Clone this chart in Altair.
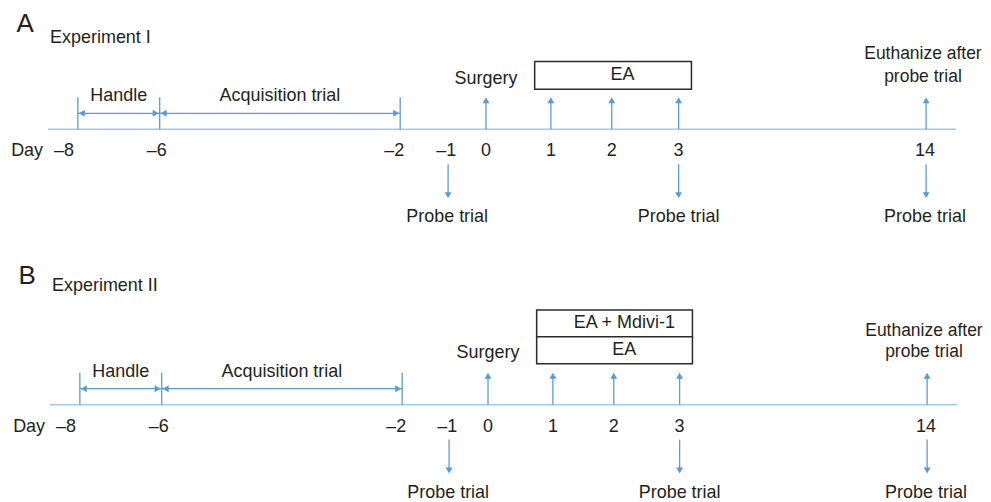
import altair as alt
import pandas as pd

# ---------------- data ----------------
DAYS = [-8, -6, -2, -1, 0, 1, 2, 3, 14]
# schematic (non-linear) placement of each day along the timeline, per panel
X_RANGE_A = [70, 152, 393, 441, 479, 544, 605, 672, 920]
X_RANGE_B = [72, 154, 395, 442, 481, 546, 607, 673, 921]

DAY_LABELS = ["–8", "–6", "–2", "–1", "0", "1", "2", "3", "14"]
DAY_LABEL_POS = [-8.34, -6.07, -2.1, -1.04, 0, 1, 2, 3, 13.95]

PERIOD_NAMES = ["Handle", "Acquisition trial"]
PERIOD_START = [-8, -6]
PERIOD_END = [-6, -2]
PERIOD_TICKS = [-8, -6, -2]

UP_ARROW_DAYS = [0, 1, 2, 3, 14]
DOWN_ARROW_DAYS = [-1, 3, 14]
DOWN_LABELS = ["Probe trial", "Probe trial", "Probe trial"]

SURGERY_TEXT, SURGERY_DAY = "Surgery", 0
END_TEXT = ["Euthanize after", "probe trial"]
END_TEXT_DAY = 13.86

BOX_START, BOX_END = 0.75, 3.57
BOXES_A = ["EA"]
BOXES_B = ["EA + Mdivi-1", "EA"]

AXIS_START, AXIS_END = -8.73, 15.33

# ---------------- style ----------------
FONT = "Liberation Sans"
TXT = "#231f20"
BLUE = "#5b9bd5"
AXIS_BLUE = "#a6c8e8"
FS = 18


def panel(x_range, y_dom, letter, title, letter_y, title_y, boxes, box_edges, surgery_y, end_y):
    xs = alt.Scale(domain=DAYS, range=x_range, nice=False, zero=False)
    ys = alt.Scale(domain=y_dom, reverse=True, nice=False, zero=False)

    def X(f):
        return alt.X(f + ":Q", scale=xs, axis=None)

    def Y(f):
        return alt.Y(f + ":Q", scale=ys, axis=None)

    def text_layer(df, **kw):
        props = dict(font=FONT, fontSize=FS, color=TXT, baseline="middle", align="center")
        props.update(kw)
        return alt.Chart(df).mark_text(**props).encode(x=X("x"), y=Y("y"), text="t:N")

    layers = []
    # main timeline
    layers.append(
        alt.Chart(pd.DataFrame({"x": [AXIS_START], "x2": [AXIS_END], "y": [0]}))
        .mark_rule(color=AXIS_BLUE, strokeWidth=1.6)
        .encode(x=X("x"), x2="x2", y=Y("y"))
    )
    # period boundary ticks
    layers.append(
        alt.Chart(pd.DataFrame({"x": PERIOD_TICKS, "y": [0] * 3, "y2": [-32] * 3}))
        .mark_rule(color=BLUE, strokeWidth=1.3)
        .encode(x=X("x"), y=Y("y"), y2="y2")
    )
    # period double arrows
    per = pd.DataFrame({"x": PERIOD_START, "x2": PERIOD_END, "y": [-16] * 2, "t": PERIOD_NAMES})
    layers.append(
        alt.Chart(per).mark_rule(color=BLUE, strokeWidth=1.3).encode(x=X("x"), x2="x2", y=Y("y"))
    )
    layers.append(
        alt.Chart(pd.DataFrame({"x": PERIOD_START, "y": [-16] * 2}))
        .mark_point(shape="triangle-left", filled=True, color=BLUE, opacity=1, size=48, xOffset=4)
        .encode(x=X("x"), y=Y("y"))
    )
    layers.append(
        alt.Chart(pd.DataFrame({"x": PERIOD_END, "y": [-16] * 2}))
        .mark_point(shape="triangle-right", filled=True, color=BLUE, opacity=1, size=48, xOffset=-4)
        .encode(x=X("x"), y=Y("y"))
    )
    mids = [(a + b) / 2 for a, b in zip(PERIOD_START, PERIOD_END)]
    layers.append(text_layer(pd.DataFrame({"x": mids, "y": [-33] * 2, "t": PERIOD_NAMES})))

    # day labels
    layers.append(text_layer(pd.DataFrame({"x": DAY_LABEL_POS, "y": [22] * 9, "t": DAY_LABELS})))
    layers.append(
        text_layer(pd.DataFrame({"x": [-9.24], "y": [22], "t": ["Day"]}))
    )

    # up arrows
    n = len(UP_ARROW_DAYS)
    layers.append(
        alt.Chart(pd.DataFrame({"x": UP_ARROW_DAYS, "y": [0] * n, "y2": [-28] * n}))
        .mark_rule(color=BLUE, strokeWidth=1.3)
        .encode(x=X("x"), y=Y("y"), y2="y2")
    )
    layers.append(
        alt.Chart(pd.DataFrame({"x": UP_ARROW_DAYS, "y": [-29] * n}))
        .mark_point(shape="triangle-up", filled=True, color=BLUE, opacity=1, size=48)
        .encode(x=X("x"), y=Y("y"))
    )
    # down arrows
    m = len(DOWN_ARROW_DAYS)
    layers.append(
        alt.Chart(pd.DataFrame({"x": DOWN_ARROW_DAYS, "y": [35] * m, "y2": [65] * m}))
        .mark_rule(color=BLUE, strokeWidth=1.3)
        .encode(x=X("x"), y=Y("y"), y2="y2")
    )
    layers.append(
        alt.Chart(pd.DataFrame({"x": DOWN_ARROW_DAYS, "y": [66] * m}))
        .mark_point(shape="triangle-down", filled=True, color=BLUE, opacity=1, size=48)
        .encode(x=X("x"), y=Y("y"))
    )
    layers.append(
        text_layer(pd.DataFrame({"x": [-1.02, 3.0, 13.95], "y": [88] * m, "t": DOWN_LABELS}))
    )

    # labels above arrows
    layers.append(text_layer(pd.DataFrame({"x": [SURGERY_DAY], "y": [surgery_y], "t": [SURGERY_TEXT]})))
    layers.append(text_layer(pd.DataFrame({"x": [END_TEXT_DAY] * 2, "y": end_y, "t": END_TEXT}), fontSize=17.5))

    # treatment boxes
    k = len(boxes)
    bdf = pd.DataFrame({
        "x": [BOX_START] * k, "x2": [BOX_END] * k,
        "y": box_edges[:-1], "y2": box_edges[1:], "t": boxes,
    })
    layers.append(
        alt.Chart(bdf).mark_rect(fill="white", stroke="#2b2b2b", strokeWidth=1.5)
        .encode(x=X("x"), x2="x2", y=Y("y"), y2="y2")
    )
    tdf = pd.DataFrame({
        "x": [(BOX_START + BOX_END) / 2] * k,
        "y": [(a + b) / 2 for a, b in zip(box_edges[:-1], box_edges[1:])],
        "t": boxes,
    })
    layers.append(text_layer(tdf))

    # panel letter and title
    layers.append(text_layer(pd.DataFrame({"x": [-9.29], "y": [letter_y], "t": [letter]}), fontSize=26))
    layers.append(text_layer(pd.DataFrame({"x": [-8.68], "y": [title_y], "t": [title]}), fontSize=18, align="left"))

    return alt.layer(*layers).properties(width=975, height=y_dom[1] - y_dom[0])


pA = panel(X_RANGE_A, [-121, 111], "A", "Experiment I", -105, -91,
           BOXES_A, [-68, -40], -50, [-75, -52])
pB = panel(X_RANGE_B, [-145, 89], "B", "Experiment II", -129, -119,
           BOXES_B, [-95, -68, -41], -52, [-74, -53])

chart = (
    alt.vconcat(pA, pB, spacing=20)
    .resolve_scale(x="independent", y="independent")
    .properties(padding=0, background="white")
    .configure_view(strokeWidth=0)
)

chart.save("out.html", embed_options={"renderer": "svg", "actions": False})
